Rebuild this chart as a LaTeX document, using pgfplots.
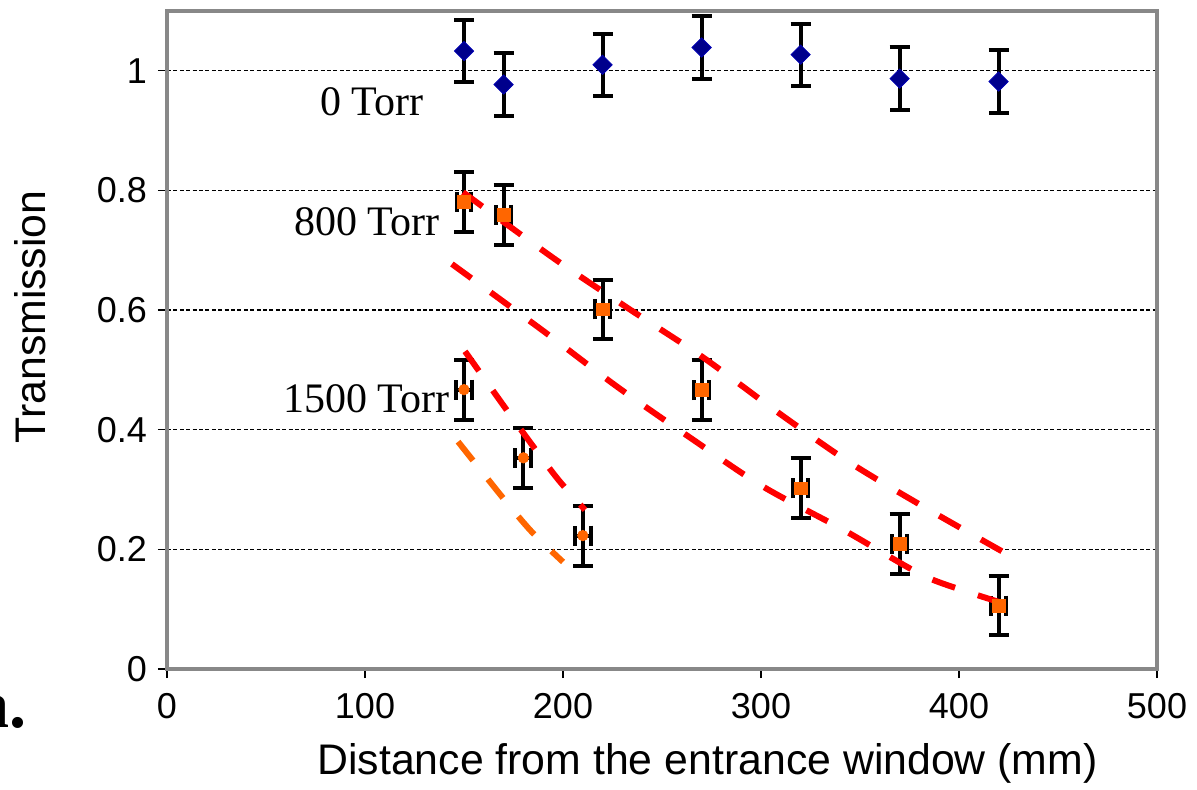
\documentclass[border=0pt]{standalone}
\usepackage{pgfplots}
\pgfplotsset{compat=1.18}
\usepackage{fontspec}
\setmainfont{Liberation Sans}
\newfontfamily\timesfont{Liberation Serif}

\definecolor{diamondblue}{RGB}{0,0,140}
\definecolor{ptorange}{RGB}{255,102,0}
\definecolor{fitred}{RGB}{255,0,0}
\definecolor{framegray}{RGB}{136,136,136}

\begin{document}
\begin{tikzpicture}
\useasboundingbox (-83.5pt,-60.5pt) rectangle (515pt,334.5pt);
\begin{axis}[
	scale only axis,
	width=495pt, height=329pt,
	xmin=0, xmax=500,
	ymin=0, ymax=1.1,
	xtick={0,100,200,300,400,500},
	ytick={0,0.2,0.4,0.6,0.8,1},
	xtick pos=bottom, ytick pos=left,
	tick align=outside,
	major tick length=4.5pt,
	tick style={black, line width=0.6pt},
	axis line style={framegray, line width=2pt},
	ymajorgrids,
	grid style={black, line width=0.6pt, dash pattern=on 2pt off 1.2pt},
	/pgf/number format/assume math mode=true,
	ticklabel style={font=\fontsize{18}{21}\selectfont},
	yticklabel style={xshift=-2pt},
	xticklabel style={yshift=-4pt},
	xlabel={Distance from the entrance window (mm)},
	ylabel={Transmission},
	label style={font=\fontsize{21.4}{25}\selectfont},
	xlabel style={at={(axis description cs:0.546,-0.143)}, anchor=center},
	ylabel style={at={(axis description cs:-0.138,0.535)}, anchor=center, rotate=0},
	clip=false,
]

% 0 Torr
\addplot[only marks, mark=square*, mark size=3.4pt,
	mark options={rotate=45, fill=diamondblue, draw=blue!70!black, line width=0.4pt},
	error bars/.cd, y dir=both, y explicit,
	error bar style={black, line width=2pt},
	error mark options={black, line width=2pt, mark size=5pt, rotate=90}]
coordinates {
	(150,1.033) +- (0,0.052)
	(170,0.977) +- (0,0.052)
	(220,1.010) +- (0,0.052)
	(270,1.039) +- (0,0.052)
	(320,1.027) +- (0,0.052)
	(370,0.987) +- (0,0.052)
	(420,0.982) +- (0,0.052)
};

% 800 Torr
\addplot[only marks, mark=square*, mark size=3.2pt,
	mark options={fill=ptorange, draw=ptorange},
	error bars/.cd, y dir=both, y explicit, x dir=both, x explicit,
	error bar style={black, line width=2pt},
	error mark options={black, line width=2pt, mark size=5pt, rotate=90}]
coordinates {
	(150,0.781) +- (3.7,0.05)
	(170,0.759) +- (3.7,0.05)
	(220,0.601) +- (3.7,0.05)
	(270,0.466) +- (3.7,0.05)
	(320,0.302) +- (3.7,0.05)
	(370,0.209) +- (3.7,0.05)
	(420,0.106) +- (3.7,0.05)
};

% 1500 Torr
\addplot[only marks, mark=*, mark size=2.6pt,
	mark options={fill=ptorange, draw=ptorange},
	error bars/.cd, y dir=both, y explicit, x dir=both, x explicit,
	error bar style={black, line width=2pt},
	error mark options={black, line width=2pt, mark size=5pt, rotate=90}]
coordinates {
	(150,0.467) +- (4,0.05)
	(180,0.353) +- (4,0.05)
	(210,0.223) +- (4,0.05)
};

% fitted curves
\addplot[fitred, line width=3pt, dash pattern=on 12pt off 12pt, smooth] coordinates {
	(149.5,0.797) (196.0,0.685) (233.8,0.601) (270.7,0.521)
	(308.1,0.430) (344.9,0.345) (383.8,0.268) (423.2,0.194)
};
\addplot[fitred, line width=3pt, dash pattern=on 12pt off 12pt, smooth] coordinates {
	(143.9,0.677) (190.9,0.563) (227.3,0.472) (264.1,0.387)
	(301.0,0.305) (341.4,0.233) (380.3,0.159) (401.5,0.132) (423.2,0.109)
};
\addplot[fitred, line width=3pt, dash pattern=on 12pt off 12pt, smooth] coordinates {
	(150.5,0.531) (170.7,0.437) (184.3,0.375) (197.5,0.317) (211.1,0.266)
};
\addplot[ptorange, line width=3pt, dash pattern=on 12pt off 12pt, smooth] coordinates {
	(147.0,0.380) (169.2,0.288) (184.3,0.229) (200.0,0.179)
};

\node[font=\timesfont\fontsize{21}{25}\selectfont, anchor=base east, inner sep=0pt] at (axis cs:129.8,0.926) {0 Torr};
\node[font=\timesfont\fontsize{21}{25}\selectfont, anchor=base east, inner sep=0pt] at (axis cs:137.9,0.724) {800 Torr};
\node[font=\timesfont\fontsize{21}{25}\selectfont, anchor=base east, inner sep=0pt] at (axis cs:142.9,0.429) {1500 Torr};
\end{axis}
\node[font=\timesfont\bfseries\fontsize{34}{40}\selectfont, anchor=base east, inner sep=0pt] at (-70pt,-29.5pt) {a.};
\end{tikzpicture}
\end{document}
